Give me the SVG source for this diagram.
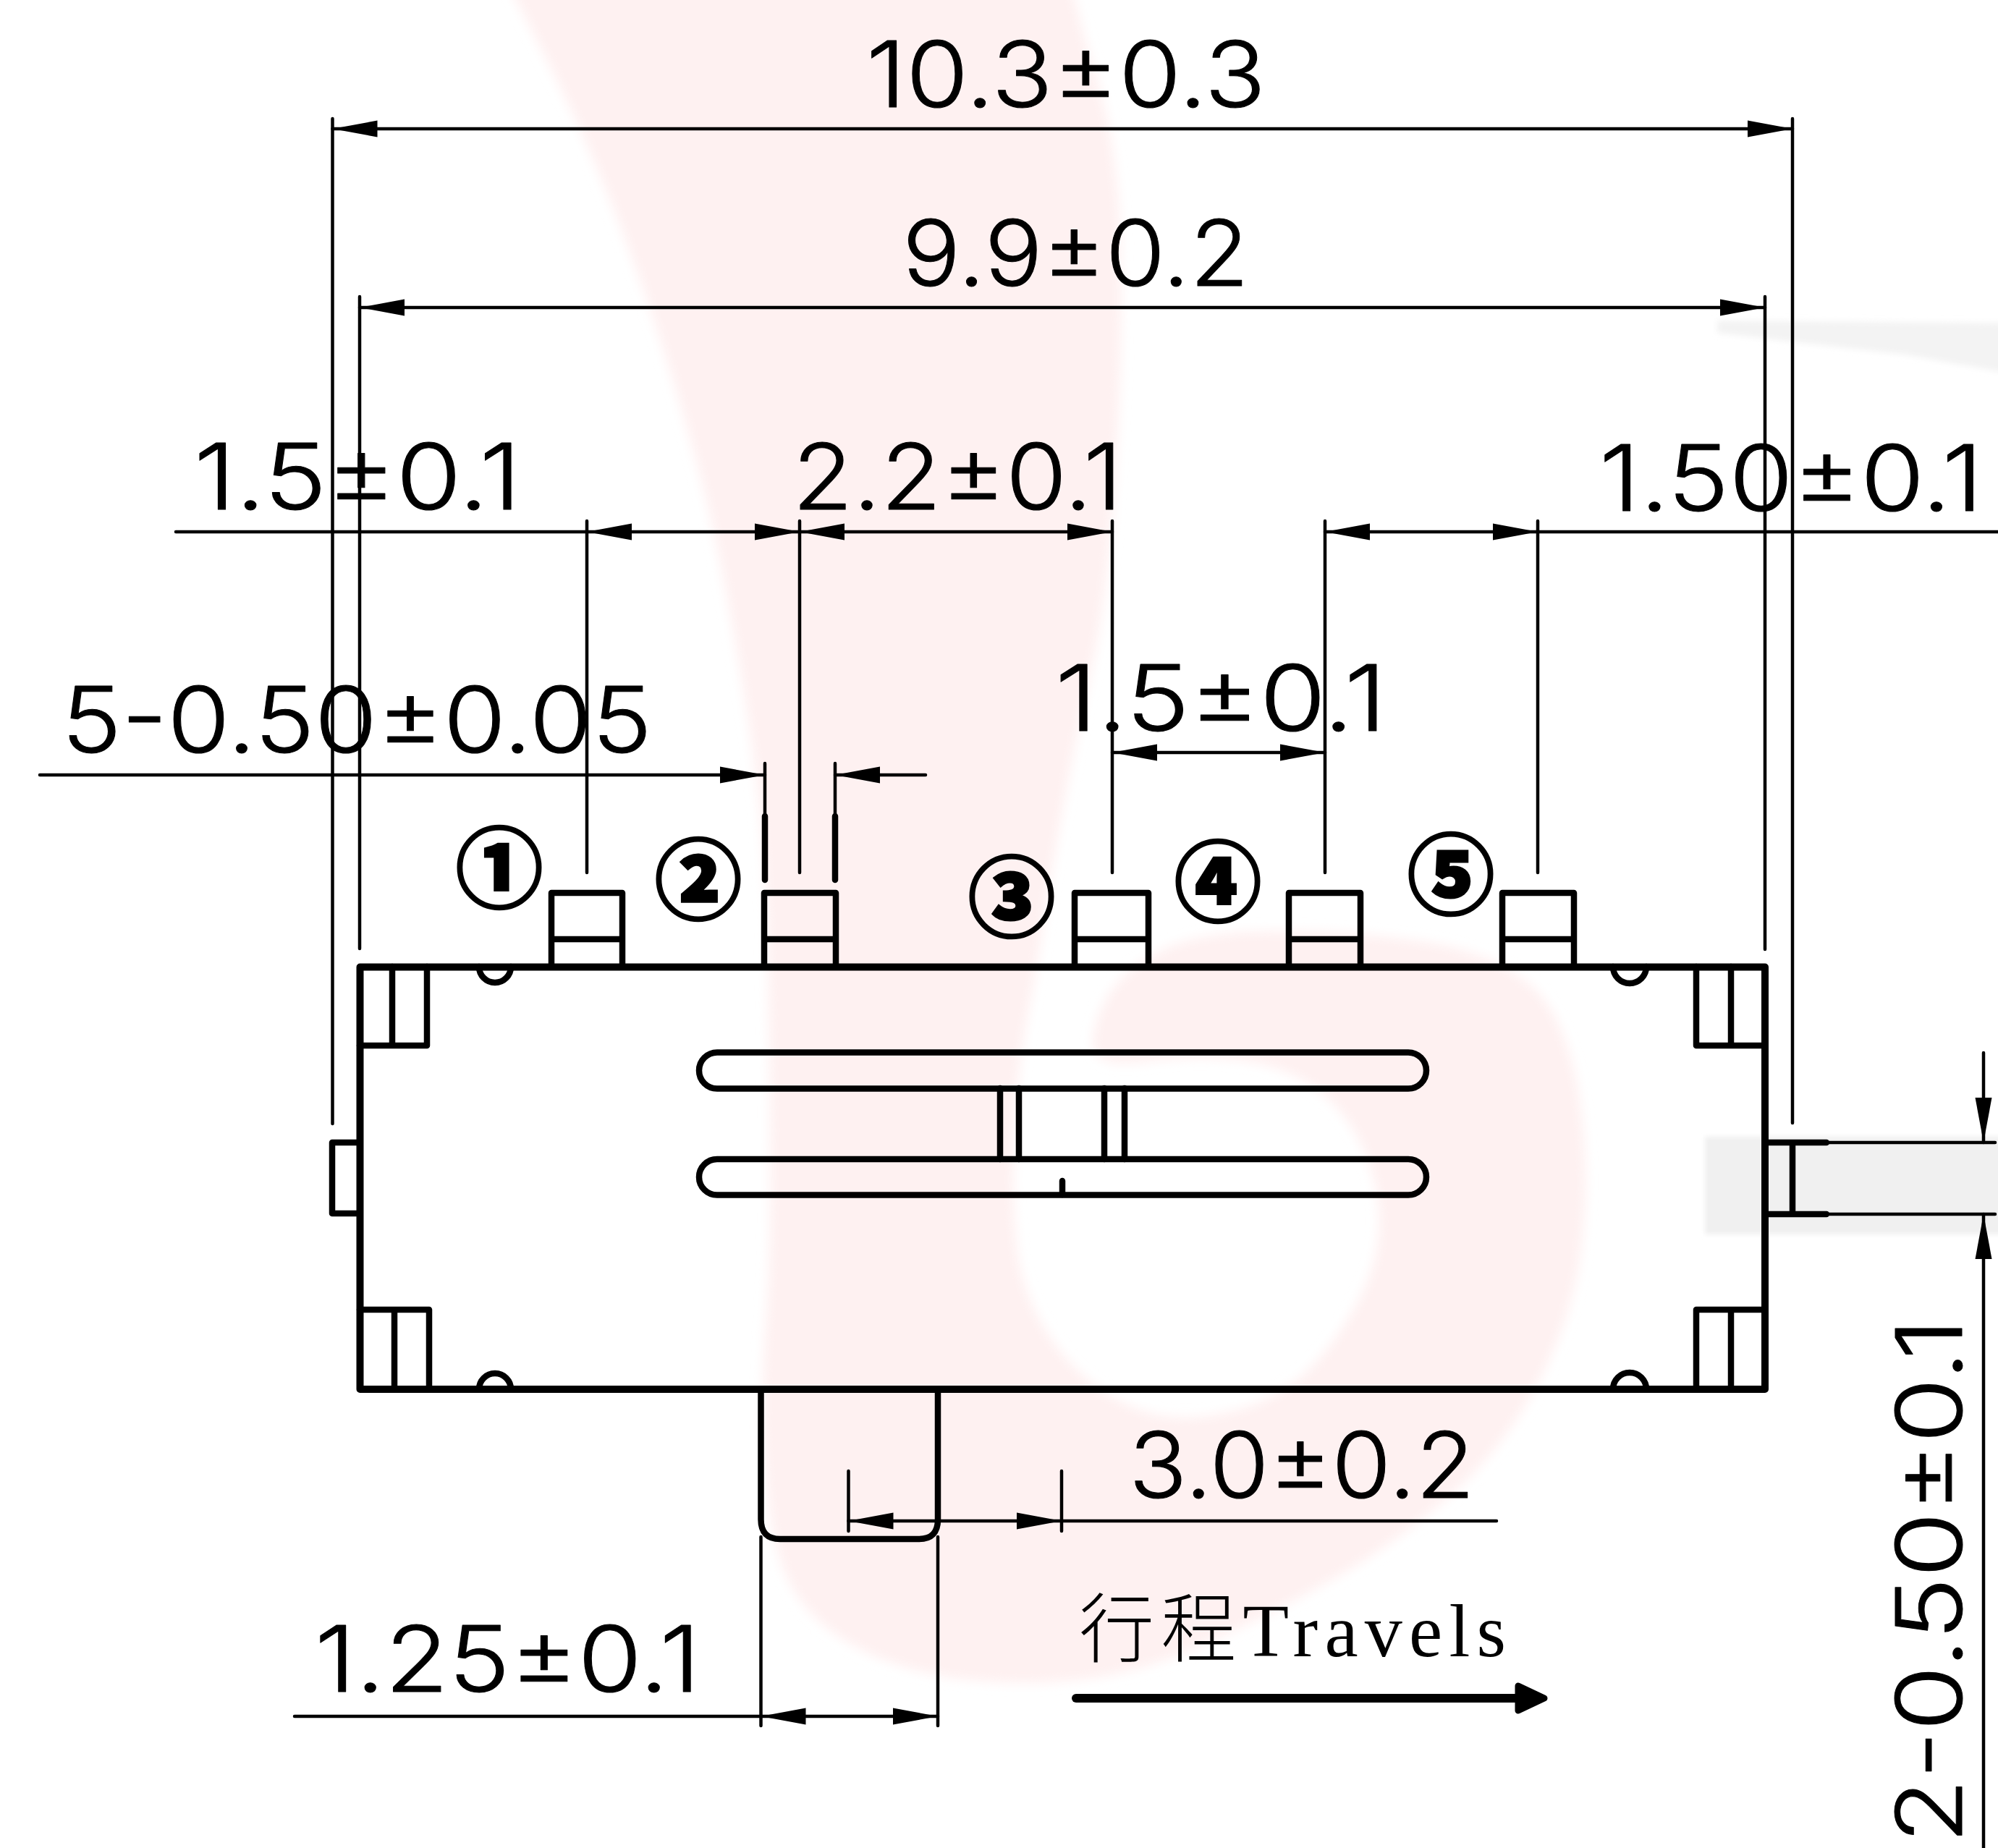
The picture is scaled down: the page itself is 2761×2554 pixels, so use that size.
<svg xmlns="http://www.w3.org/2000/svg" width="2761" height="2554" viewBox="0 0 2761 2554">
<style>
.dim{font-family:Inter,"DejaVu Sans",sans-serif;font-weight:300;font-size:126px;fill:#000;stroke:#000;stroke-width:1px;stroke-linejoin:round}
.num{font-family:"Noto Sans CJK SC","DejaVu Sans",sans-serif;font-weight:900;font-size:120px;fill:#000;stroke:#000;stroke-width:3px;text-anchor:middle}
.trv{font-family:"Liberation Serif","Noto Sans CJK SC",serif;font-weight:300;font-size:104px;fill:#000}
.th{fill:none;stroke:#000;stroke-width:8.5;stroke-linecap:round;stroke-linejoin:round}
.bd{fill:none;stroke:#000;stroke-width:10;stroke-linecap:round;stroke-linejoin:round}
.ln{fill:none;stroke:#000;stroke-width:4.5;stroke-linecap:round}
.ar{marker-start:url(#ah);marker-end:url(#ah)}
.ae{marker-end:url(#ah)}
</style>
<defs>
<marker id="ah" markerUnits="userSpaceOnUse" markerWidth="64" markerHeight="24" refX="62" refY="12" orient="auto-start-reverse"><path d="M0 0.5L62 12L0 23.5Z" fill="#000"/></marker>
<filter id="b8" x="-5%" y="-5%" width="110%" height="110%"><feGaussianBlur stdDeviation="8"/></filter>
<filter id="b3" x="-5%" y="-20%" width="110%" height="140%"><feGaussianBlur stdDeviation="4"/></filter>
<filter id="b2" x="-5%" y="-5%" width="110%" height="110%"><feGaussianBlur stdDeviation="3"/></filter>
</defs>
<rect width="2761" height="2554" fill="#fff"/>
<g id="watermark">
<path filter="url(#b8)" fill="#fef1f1" d="M698 -30L754 80Q810 190 856 310Q902 430 940 560Q979 689 1003 818Q1028 947 1042 1055Q1056 1163 1059 1260Q1062 1357 1064 1543Q1066 1730 1058 1834Q1050 1938 1058 2041Q1066 2145 1095 2195Q1124 2245 1186 2278Q1249 2311 1332 2321Q1415 2331 1497 2321Q1580 2311 1663 2273Q1746 2236 1829 2190Q1912 2145 1995 2075Q2078 2004 2127 1908Q2177 1813 2187 1710Q2198 1606 2180 1502Q2161 1399 2111 1358Q2061 1316 1965 1301Q1870 1287 1766 1287Q1663 1287 1613 1310Q1564 1332 1539 1365Q1514 1399 1510 1438Q1506 1478 1585 1467Q1663 1457 1725 1467Q1788 1478 1829 1513Q1870 1548 1891 1606Q1912 1664 1903 1722Q1895 1780 1841 1855Q1788 1929 1705 1950Q1622 1971 1559 1942Q1497 1913 1456 1855Q1415 1797 1406 1730Q1398 1664 1402 1573Q1406 1482 1418 1415Q1431 1349 1440 1291Q1448 1233 1466 1133Q1484 1033 1508 925Q1533 818 1543 624Q1554 430 1547 301Q1540 172 1508 86L1477 -30Z"/>
<path filter="url(#b3)" fill="#f3f3f3" d="M2373 443L2800 447V520L2633 490L2500 475L2373 460Z"/>
<rect id="band" filter="url(#b2)" x="2356" y="1571" width="460" height="135" fill="#f0f0f0"/>
</g>
<g id="connectors">
<path class="ln" d="M459.5 164V1553M2477 164V1552M497 410V1311M2439 410V1312"/>
<path class="ln" d="M811 720V1206M1105 720V1206M1537 720V1206M1831 720V1206M2125 720V1206"/>
<path class="ln" d="M1057 1055V1128M1154 1055V1128M1172.5 2033V2116M1467 2033V2116M1051.5 2124V2385M1296 2124V2385"/>
<path class="ln ar" d="M459.5 178H2477"/>
<path class="ln ar" d="M497 425H2439"/>
<path class="ln" d="M243 735H811M2125 735H2761M1467 2102H2068M407 2372H1051.5"/>
<path class="ln ar" d="M811 735H1105"/>
<path class="ln ar" d="M1105 735H1537"/>
<path class="ln ar" d="M1831 735H2125"/>
<path class="ln ar" d="M1537 1040H1831"/>
<path class="ln ae" d="M55 1071H1057"/>
<path class="ln ae" d="M1279 1071H1154"/>
<path class="ln ar" d="M1172.5 2102H1467"/>
<path class="ln ar" d="M1051.5 2372H1296"/>
<path class="ln ae" d="M2741 1455V1579"/>
<path class="ln ae" d="M2741 2554V1678"/>
<path d="M1057 1128V1216M1154 1128V1216" class="th"/>
</g>
<g id="body">
<rect class="bd" x="497.5" y="1336.5" width="1941.5" height="583.5"/>
<path class="th" d="M497 1445H590V1336M542 1336V1445M2439 1445H2344V1336M2392 1336V1445M497 1810H593V1920M545 1810V1920M2439 1810H2344V1920M2392 1810V1920"/>
<path class="th" d="M662 1336a22 22 0 0 0 44 0M2229 1336a23 23 0 0 0 46 0M662 1920a22 22 0 0 1 44 0M2229 1920a23 23 0 0 1 46 0"/>
</g>
<g id="left-nub"><path class="th" d="M497 1579H459V1677H497"/></g>
<g id="right-nub"><path class="th" d="M2439 1579H2524M2439 1678H2524M2477 1579V1678"/><path class="ln" d="M2524 1579H2757M2524 1678H2757"/></g>
<g id="slots">
<rect class="th" x="966" y="1454.5" width="1005" height="50" rx="25"/>
<rect class="th" x="966" y="1602" width="1005" height="49.5" rx="25"/>
<path class="th" d="M1382 1504V1602M1408 1504V1602M1526 1504V1602M1554 1504V1602M1468 1632V1651"/>
</g>
<g id="slider"><path class="th" d="M1051.5 1920V2100Q1051.5 2127 1078 2127H1270Q1296 2127 1296 2100V1920"/></g>
<g id="pin1"><path class="th" d="M762 1336V1234H860V1336M762 1298H860"/><text class="num" x="690" y="1245">①</text></g>
<g id="pin2"><path class="th" d="M1056 1336V1234H1155V1336M1056 1298H1155"/><text class="num" x="965" y="1261">②</text></g>
<g id="pin3"><path class="th" d="M1485 1336V1234H1587V1336M1485 1298H1587"/><text class="num" x="1398" y="1285">③</text></g>
<g id="pin4"><path class="th" d="M1781 1336V1234H1880V1336M1781 1298H1880"/><text class="num" x="1683" y="1264">④</text></g>
<g id="pin5"><path class="th" d="M2076 1336V1234H2175V1336M2076 1298H2175"/><text class="num" x="2005" y="1254">⑤</text></g>
<g id="labels">
<text class="dim" x="1197" y="148" textLength="552" lengthAdjust="spacingAndGlyphs">10.3±0.3</text>
<text class="dim" x="1247" y="395" textLength="479" lengthAdjust="spacingAndGlyphs">9.9±0.2</text>
<text class="dim" x="268" y="704" textLength="452" lengthAdjust="spacingAndGlyphs">1.5±0.1</text>
<text class="dim" x="1095" y="704" textLength="456" lengthAdjust="spacingAndGlyphs">2.2±0.1</text>
<text class="dim" x="2210" y="706" textLength="530" lengthAdjust="spacingAndGlyphs">1.50±0.1</text>
<text class="dim" x="1458" y="1010" textLength="458" lengthAdjust="spacingAndGlyphs">1.5±0.1</text>
<text class="dim" x="85" y="1040" textLength="816" lengthAdjust="spacingAndGlyphs">5-0.50±0.05</text>
<text class="dim" x="1560" y="2070" textLength="478" lengthAdjust="spacingAndGlyphs">3.0±0.2</text>
<text class="dim" x="435" y="2338" textLength="533" lengthAdjust="spacingAndGlyphs">1.25±0.1</text>
<text class="dim" transform="translate(2711 2548) rotate(-90)" textLength="726" lengthAdjust="spacingAndGlyphs">2-0.50±0.1</text>
<text class="trv" x="1491" y="2289" textLength="590">行程Travels</text>
</g>
<g id="travel-arrow">
<path class="bd" d="M1487 2347H2100" style="stroke-width:12"/>
<path d="M2098 2330L2134 2347L2098 2364Z" fill="#000" stroke="#000" stroke-width="9" stroke-linejoin="round"/>
</g>
</svg>
